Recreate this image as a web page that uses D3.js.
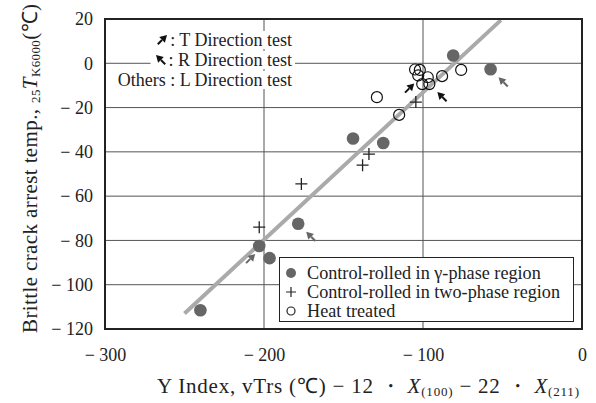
<!DOCTYPE html>
<html>
<head>
<meta charset="utf-8">
<script src="https://cdn.jsdelivr.net/npm/d3@7"></script>
<style>
  body { margin: 0; background: #fff; }
</style>
</head>
<body>
<svg id="chart" width="596" height="403"></svg>
<script>
// data
let xTicks = [-300, -200, -100, 0];
let yTicks = [20, 0, -20, -40, -60, -80, -100, -120];

let gammaRolled = [
    [-240, -111.5], [-203, -82.5], [-196.5, -88], [-178.5, -72.5],
    [-144, -34], [-125, -36], [-81, 3.5], [-57.5, -2.7]
];
let twoPhase = [
    [-203, -74], [-176.5, -54.5], [-138, -46], [-134, -41], [-104.5, -17.5]
];
let heatTreated = [
    [-129, -15.3], [-115, -23.3], [-105, -2.8], [-102, -3], [-103, -5.5],
    [-97, -6.3], [-100.5, -9.4], [-96, -9.4], [-88, -5.8], [-76, -3]
];
// regression line end points
let fitLine = [[-250, -113], [-51, 19.5]];

// direction arrows: target x, y, kind (T up-right / R up-left), colour
let arrows = [
    [-203, -82.5, "T", "#666"],
    [-178.5, -72.5, "R", "#666"],
    [-57.5, -2.7, "R", "#666"],
    [-103, -5.5, "T", "#111"],
    [-96, -9.4, "R", "#111"]
];

const SERIF = "'Liberation Serif', 'Times New Roman', serif";

let svg = d3.select("#chart");
let x = d3.scaleLinear().domain([-300, 0]).range([105, 582]);
let y = d3.scaleLinear().domain([-120, 20]).range([329, 19]);

function fmt(v) {
    return v < 0 ? "\u2212 " + Math.abs(v) : String(v);
}

// gridlines
svg.append("g").selectAll("line")
   .data(yTicks.filter(d => d > -120 && d < 20))
   .enter().append("line")
   .attr("x1", x(-300)).attr("x2", x(0))
   .attr("y1", d => y(d)).attr("y2", d => y(d))
   .attr("stroke", "#555").attr("stroke-width", 1);
svg.append("g").selectAll("line")
   .data(xTicks.filter(d => d > -300 && d < 0))
   .enter().append("line")
   .attr("x1", d => x(d)).attr("x2", d => x(d))
   .attr("y1", y(20)).attr("y2", y(-120))
   .attr("stroke", "#555").attr("stroke-width", 1);

// axes (labels only, the frame is drawn below)
let xAxis = svg.append("g").attr("transform", `translate(0,${y(-120)})`)
   .call(d3.axisBottom(x).tickValues(xTicks).tickSize(0).tickPadding(19).tickFormat(fmt));
let yAxis = svg.append("g").attr("transform", `translate(${x(-300)},0)`)
   .call(d3.axisLeft(y).tickValues(yTicks).tickSize(0).tickPadding(12).tickFormat(fmt));
[xAxis, yAxis].forEach(a => {
    a.select(".domain").remove();
    a.attr("font-family", SERIF).attr("font-size", 18);
    a.selectAll("text").attr("fill", "#222");
});

// top-left legend with white backing
let noteLines = [": T Direction test", ": R Direction test", "Others : L Direction test"];
let note = svg.append("g");
noteLines.forEach((t, i) => {
    let tx = note.append("text")
        .attr("x", 292).attr("y", 46 + i * 20)
        .attr("text-anchor", "end")
        .attr("font-family", SERIF).attr("font-size", 18).attr("fill", "#222")
        .text(t);
    let b = tx.node().getBBox();
    note.insert("rect", "text")
        .attr("x", b.x - (i < 2 ? 18 : 3)).attr("y", b.y + 1)
        .attr("width", b.width + (i < 2 ? 21 : 6)).attr("height", b.height - 2)
        .attr("fill", "#fff");
});

function arrow(g, x0, y0, kind, colour) {
    // draws arrow whose tip is at x0,y0
    let dx = kind == "T" ? -1 : 1;
    let len = 13, ang = Math.PI / 4;
    let ex = x0 + dx * len * Math.cos(ang), ey = y0 + len * Math.sin(ang);
    let ux = (x0 - ex) / len, uy = (y0 - ey) / len;
    let hx = x0 - ux * 7, hy = y0 - uy * 7;
    g.append("line").attr("x1", ex).attr("y1", ey).attr("x2", hx).attr("y2", hy)
     .attr("stroke", colour).attr("stroke-width", 2);
    g.append("path")
     .attr("d", `M${x0},${y0}L${hx - uy * 4},${hy + ux * 4}L${hx + uy * 4},${hy - ux * 4}Z`)
     .attr("fill", colour);
}
arrow(note, 167, 35, "T", "#111");
arrow(note, 156, 55, "R", "#111");

// regression line
svg.append("line")
   .attr("x1", x(fitLine[0][0])).attr("y1", y(fitLine[0][1]))
   .attr("x2", x(fitLine[1][0])).attr("y2", y(fitLine[1][1]))
   .attr("stroke", "#aaa").attr("stroke-width", 4);

// points
svg.append("g").selectAll("circle")
   .data(heatTreated).enter().append("circle")
   .attr("cx", d => x(d[0])).attr("cy", d => y(d[1])).attr("r", 5.5)
   .attr("fill", "none").attr("stroke", "#111").attr("stroke-width", 1.2);
svg.append("g").selectAll("path")
   .data(twoPhase).enter().append("path")
   .attr("d", d => `M${x(d[0]) - 6},${y(d[1])}h12M${x(d[0])},${y(d[1]) - 6}v12`)
   .attr("stroke", "#222").attr("stroke-width", 1.3);
svg.append("g").selectAll("circle")
   .data(gammaRolled).enter().append("circle")
   .attr("cx", d => x(d[0])).attr("cy", d => y(d[1])).attr("r", 6.3)
   .attr("fill", "#666");

// arrows pointing at specimens
let ag = svg.append("g");
arrows.forEach(a => {
    let px = x(a[0]), py = y(a[1]);
    if (a[2] == "T") arrow(ag, px - 4, py + 8, "T", a[3]);
    else arrow(ag, px + 8, py + 8, "R", a[3]);
});

// bottom legend
let lg = svg.append("g");
lg.append("rect").attr("x", 279.5).attr("y", 257.5).attr("width", 294).attr("height", 64)
  .attr("fill", "#fff").attr("stroke", "#222").attr("stroke-width", 1);
let legendItems = ["Control-rolled in \u03b3-phase region", "Control-rolled in two-phase region", "Heat treated"];
legendItems.forEach((t, i) => {
    let cy = 273 + i * 19;
    if (i == 0) lg.append("circle").attr("cx", 291).attr("cy", cy).attr("r", 5).attr("fill", "#666");
    if (i == 1) lg.append("path").attr("d", `M${286},${cy}h10M${291},${cy - 5}v10`)
                  .attr("stroke", "#222").attr("stroke-width", 1.2);
    if (i == 2) lg.append("circle").attr("cx", 291).attr("cy", cy).attr("r", 4)
                  .attr("fill", "none").attr("stroke", "#222").attr("stroke-width", 1.2);
    lg.append("text").attr("x", 307).attr("y", cy + 6)
      .attr("font-family", SERIF).attr("font-size", 18.2).attr("fill", "#222").text(t);
});

// frame
svg.append("rect")
   .attr("x", x(-300)).attr("y", y(20))
   .attr("width", x(0) - x(-300)).attr("height", y(-120) - y(20))
   .attr("fill", "none").attr("stroke", "#222").attr("stroke-width", 2);

// axis titles
let xt = svg.append("text").attr("x", 157).attr("y", 393)
   .attr("font-family", SERIF).attr("font-size", 21).attr("fill", "#222")
   .attr("textLength", 422).attr("lengthAdjust", "spacing");
xt.append("tspan").text("Y Index, vTrs (\u2103) \u2212 12 \u30fb ");
xt.append("tspan").attr("font-style", "italic").text("X");
xt.append("tspan").attr("dy", 3).attr("font-size", 13).text("(100)");
xt.append("tspan").attr("dy", -3).text(" \u2212 22 \u30fb ");
xt.append("tspan").attr("font-style", "italic").text("X");
xt.append("tspan").attr("dy", 3).attr("font-size", 13).text("(211)");

let yt = svg.append("text").attr("transform", "translate(37,333) rotate(-90)")
   .attr("font-family", SERIF).attr("font-size", 21).attr("fill", "#222")
   .attr("textLength", 329).attr("lengthAdjust", "spacing");
yt.append("tspan").text("Brittle crack arrest temp., ");
yt.append("tspan").attr("dy", 3).attr("font-size", 13).text("25");
yt.append("tspan").attr("dy", -3).attr("font-style", "italic").text("T");
yt.append("tspan").attr("dy", 3).attr("font-size", 13).text("K6000");
yt.append("tspan").attr("dy", -3).text("(\u2103)");
</script>
</body>
</html>
